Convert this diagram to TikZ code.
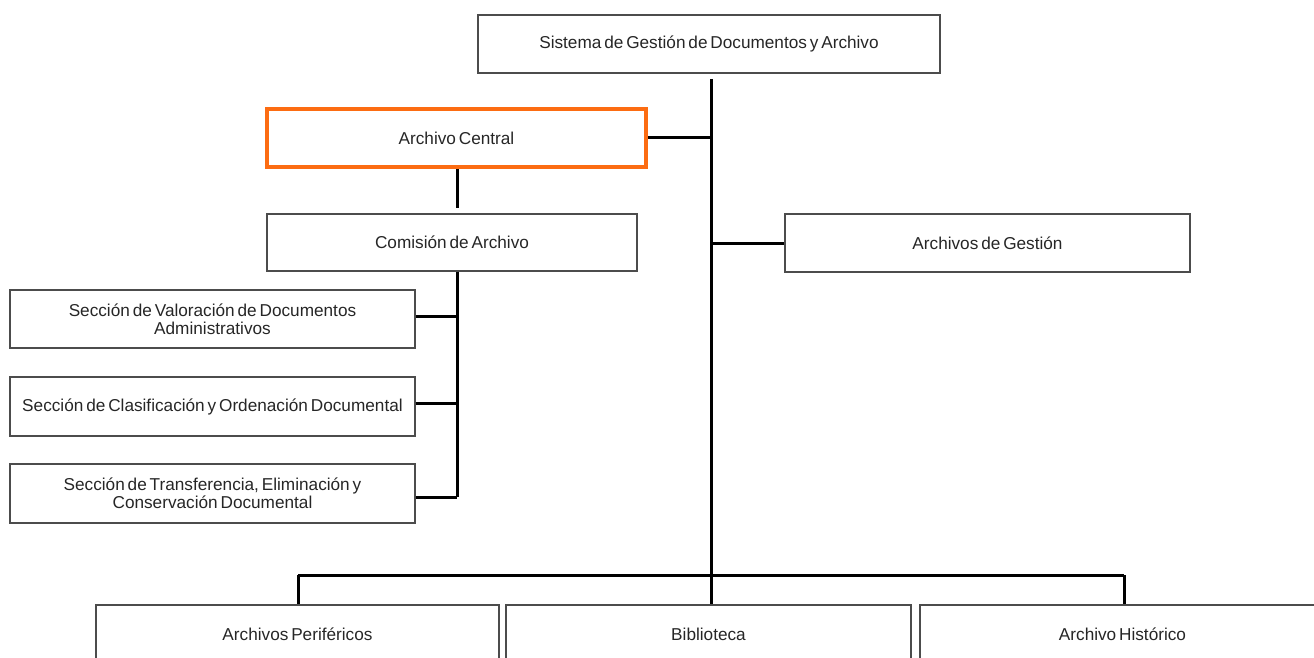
\documentclass[tikz,border=0pt]{standalone}
\usepackage{fontspec}
\setmainfont{Liberation Sans}[WordSpace=0.6]
\usepackage{tikz}
\usetikzlibrary{positioning}

\definecolor{markorange}{RGB}{252,108,18}

\begin{document}
\begin{tikzpicture}[x=1pt,y=-1pt,
 box/.style={draw=black!70,line width=1.4pt,inner sep=0pt,align=center,
  minimum height=58pt,text=black!85,font=\fontsize{17.2}{18}\selectfont},
 focus/.style={box,draw=markorange,line width=3.6pt},
 link/.style={line width=3pt,black}]
\useasboundingbox (0,0) rectangle (1314,658);
\clip (0,0) rectangle (1314,658);
% top level and trunk
\node[box,minimum width=462pt] (sgda) at (709,44) {Sistema de Gestión de Documentos y Archivo};
\node[focus,minimum width=379pt,minimum height=58pt] (central) at (456.5,138) {Archivo Central};
\node[box,minimum width=370pt,minimum height=57pt] (comision) at (452,242.5) {Comisión de Archivo};
\node[box,minimum width=405pt] (gestion) at (987.5,243) {Archivos de Gestión};
% sections under the commission
\node[box,minimum width=405pt] (valor) at (212.5,319) {Sección de Valoración de Documentos\\Administrativos};
\node[box,minimum width=405pt,minimum height=59pt] (clasif) at (212.5,406.5) {Sección de Clasificación y Ordenación Documental};
\node[box,minimum width=405pt,minimum height=59pt] (transf) at (212.5,493.5) {Sección de Transferencia, Eliminación y\\Conservación Documental};
% bottom row, cut by the page edge
\node[box,minimum width=403pt] (perif) at (297.5,634) {Archivos Periféricos};
\node[box,minimum width=405pt] (biblio) at (708.5,634) {Biblioteca};
\node[box,minimum width=405pt] (historico) at (1122.5,634) {Archivo Histórico};

\coordinate (trunktop) at (711,79);
\coordinate (busmid) at (711,575);
\coordinate (busleft) at (298,575);
\coordinate (busright) at (1124,575);
\coordinate (comtop) at (457,208);
\coordinate (comfoot) at (457,497);

\draw[link] (trunktop) -- (busmid);
\draw[link] (central.east) -- (central.east -| trunktop);
\draw[link] (gestion.west -| trunktop) -- (gestion.west);
\draw[link] (central.south -| comtop) -- (comtop);
\draw[link] (comision.south -| comfoot) -- (comfoot);
\draw[link] ([yshift=3pt]valor.east) -- ([yshift=3pt]valor.east -| comfoot);
\draw[link] ([yshift=3pt]clasif.east) -- ([yshift=3pt]clasif.east -| comfoot);
\draw[link] ([yshift=-3.5pt]transf.east) -| (comfoot);
\draw[link] (busleft) -- (busright);
\draw[link] (busleft) -- (perif.north -| busleft);
\draw[link] (busmid) -- (biblio.north -| busmid);
\draw[link] (busright) -- (historico.north -| busright);
\end{tikzpicture}
\end{document}
